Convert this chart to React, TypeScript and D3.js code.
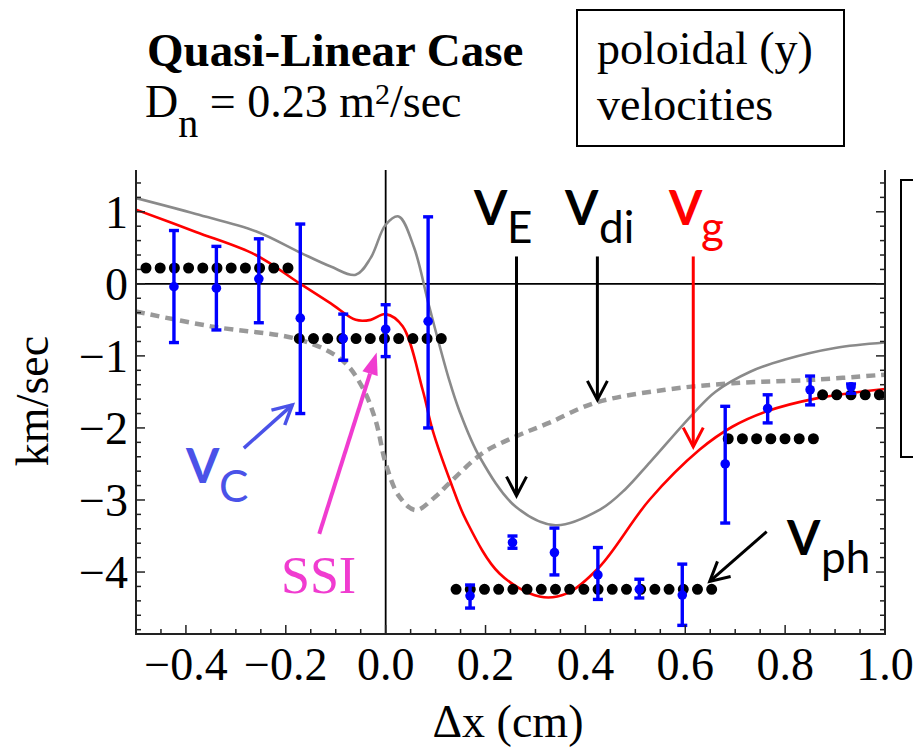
import React from 'react';
import * as d3 from 'd3';

// ---------- data ----------
const xTickValues = [-0.4, -0.2, 0.0, 0.2, 0.4, 0.6, 0.8, 1.0];
const xTickLabels = ['\u22120.4', '\u22120.2', '0.0', '0.2', '0.4', '0.6', '0.8', '1.0'];
const yTickValues = [1, 0, -1, -2, -3, -4];
const yTickLabels = ['1', '0', '\u22121', '\u22122', '\u22123', '\u22124'];

// V_E (gray solid)
const vE: [number, number][] = [
  [-0.5, 1.19], [-0.38, 0.97], [-0.26, 0.73], [-0.17, 0.43], [-0.11, 0.24], [-0.06, 0.125],
  [-0.03, 0.36], [0.0, 0.82], [0.026, 0.935], [0.057, 0.5], [0.087, -0.31], [0.127, -1.33],
  [0.147, -1.75], [0.188, -2.4], [0.26, -3.09], [0.34, -3.35], [0.43, -3.13], [0.48, -2.85],
  [0.53, -2.47], [0.616, -1.8], [0.66, -1.5], [0.73, -1.22], [0.8, -1.05], [0.9, -0.89], [1.0, -0.815],
];

// V_g (red)
const vG: [number, number][] = [
  [-0.5, 1.03], [-0.38, 0.72], [-0.26, 0.4], [-0.173, 0.01], [-0.11, -0.27], [-0.06, -0.5],
  [-0.03, -0.5], [0.0, -0.42], [0.034, -0.59], [0.074, -1.47], [0.094, -2.03], [0.13, -2.75],
  [0.161, -3.28], [0.228, -4.02], [0.308, -4.34], [0.362, -4.3], [0.428, -3.93], [0.528, -3.0],
  [0.629, -2.3], [0.695, -1.98], [0.763, -1.77], [0.863, -1.59], [1.0, -1.46],
];

// V_di (gray dashed)
const vDi: [number, number][] = [
  [-0.5, -0.385], [-0.35, -0.59], [-0.17, -0.78], [-0.087, -1.06], [-0.047, -1.43], [-0.02, -1.9],
  [0.0, -2.49], [0.027, -2.95], [0.06, -3.14], [0.1, -2.95], [0.127, -2.77], [0.194, -2.35],
  [0.26, -2.12], [0.327, -1.93], [0.42, -1.65], [0.56, -1.47], [0.695, -1.38], [0.86, -1.33],
  [1.0, -1.26],
];

// V_ph (black dotted plateaus): start x, end x, value
const vphStart = [-0.48, -0.173, 0.141, 0.686, 0.875];
const vphEnd = [-0.195, 0.112, 0.654, 0.857, 1.03];
const vphValue = [0.22, -0.76, -4.24, -2.15, -1.54];

// V_C (blue measured points with error bars)
const vcX = [-0.424, -0.339, -0.254, -0.171, -0.085, 0.0, 0.085, 0.169, 0.254, 0.338, 0.425, 0.508, 0.594, 0.68, 0.765, 0.85, 0.932];
const vcMean = [-0.04, -0.06, 0.07, -0.476, -0.76, -0.63, -0.52, -4.33, -3.59, -3.73, -4.04, -4.24, -4.32, -2.5, -1.73, -1.47, -1.43];
const vcLow = [-0.815, -0.64, -0.54, -1.8, -1.06, -1.01, -2.0, -4.5, -3.67, -4.04, -4.38, -4.36, -4.74, -3.32, -1.93, -1.68, -1.52];
const vcHigh = [0.74, 0.52, 0.625, 0.83, -0.42, -0.29, 0.93, -4.18, -3.5, -3.39, -3.66, -4.1, -3.89, -1.7, -1.54, -1.28, -1.39];

// ---------- layout ----------
const W = 913;
const H = 751;
const PL = 136;
const PR = 885;
const PT = 170;
const PB = 634;

const serif = '"Liberation Serif", "Times New Roman", serif';
const sans = 'Lato, "Open Sans", sans-serif';

const xS = d3.scaleLinear().domain([-0.5, 1.0]).range([PL, PR]);
const yS = d3.scaleLinear().domain([-4.86, 1.58]).range([PB, PT]);

const smooth = d3.line<[number, number]>().x((d) => xS(d[0])).y((d) => yS(d[1])).curve(d3.curveCatmullRom.alpha(0.5));

function Arrow({ x1, y1, x2, y2, color, width = 3, filled = false, head = 19, half = 10 }: any) {
  const ang = Math.atan2(y2 - y1, x2 - x1);
  const bx = x2 - head * Math.cos(ang);
  const by = y2 - head * Math.sin(ang);
  const px = -Math.sin(ang) * half;
  const py = Math.cos(ang) * half;
  if (filled) {
    return (
      <g>
        <line x1={x1} y1={y1} x2={bx} y2={by} stroke={color} strokeWidth={width} />
        <path d={`M${x2},${y2}L${bx + px},${by + py}L${bx - px},${by - py}Z`} fill={color} />
      </g>
    );
  }
  return (
    <g fill="none" stroke={color} strokeWidth={width}>
      <line x1={x1} y1={y1} x2={x2} y2={y2} />
      <path d={`M${bx + px},${by + py}L${x2},${y2}L${bx - px},${by - py}`} strokeLinejoin="miter" />
    </g>
  );
}

export default function App() {
  const xMinor = xS.ticks(30);
  const yMinor = yS.ticks(32);
  const isMajorX = (v: number) => Math.abs(v * 5 - Math.round(v * 5)) < 1e-6;
  const isMajorY = (v: number) => Math.abs(v - Math.round(v)) < 1e-6;

  return (
    <svg width={W} height={H} style={{ position: 'absolute', left: 0, top: 0, background: '#fff' }}>
      <defs>
        <clipPath id="plot">
          <rect x={PL} y={PT} width={PR - PL} height={PB - PT} />
        </clipPath>
      </defs>

      {/* title */}
      <text x={147} y={66} fontFamily={serif} fontWeight="bold" fontSize={47} fill="#000">Quasi-Linear Case</text>
      <text x={145} y={117} fontFamily={serif} fontSize={46} fill="#000">
        D<tspan dy={20} fontSize={40}>n</tspan>
        <tspan dy={-20}> = 0.23 m</tspan>
        <tspan dy={-13} fontSize={30}>2</tspan>
        <tspan dy={13}>/sec</tspan>
      </text>
      <rect x={577} y={10} width={267} height={136} fill="none" stroke="#000" strokeWidth={2} />
      <text x={597} y={64} fontFamily={serif} fontSize={46} fill="#000">poloidal (y)</text>
      <text x={597} y={120} fontFamily={serif} fontSize={46} fill="#000">velocities</text>

      {/* partial legend box at right */}
      <rect x={901} y={180} width={40} height={277} fill="none" stroke="#000" strokeWidth={2} />

      {/* zero lines */}
      <line x1={PL} x2={PR} y1={yS(0)} y2={yS(0)} stroke="#000" strokeWidth={1.8} />
      <line x1={xS(0)} x2={xS(0)} y1={PT} y2={PB} stroke="#000" strokeWidth={1.8} />

      <g clipPath="url(#plot)">
        <path d={smooth(vDi) || ''} fill="none" stroke="#999" strokeWidth={4.5} strokeDasharray="9 6" />
        <path d={smooth(vE) || ''} fill="none" stroke="#8a8a8a" strokeWidth={2.6} />
        <path d={smooth(vG) || ''} fill="none" stroke="#ff0000" strokeWidth={2.6} />
        {vphStart.map((s, i) => (
          <line key={i} x1={xS(s)} x2={xS(vphEnd[i])} y1={yS(vphValue[i])} y2={yS(vphValue[i])}
            stroke="#000" strokeWidth={11} strokeLinecap="round" strokeDasharray="0 14.2" />
        ))}
        {vcX.map((x, i) => (
          <g key={i} stroke="#0000ff" strokeWidth={3.4} fill="#0000ff">
            <line x1={xS(x)} x2={xS(x)} y1={yS(vcLow[i])} y2={yS(vcHigh[i])} />
            <line x1={xS(x) - 5} x2={xS(x) + 5} y1={yS(vcLow[i])} y2={yS(vcLow[i])} />
            <line x1={xS(x) - 5} x2={xS(x) + 5} y1={yS(vcHigh[i])} y2={yS(vcHigh[i])} />
            <circle cx={xS(x)} cy={yS(vcMean[i])} r={4.8} stroke="none" />
          </g>
        ))}
      </g>

      {/* frame */}
      <g stroke="#222" strokeWidth={2} fill="none">
        <line x1={PL} x2={PL} y1={PT} y2={PB + 1} />
        <line x1={PR} x2={PR} y1={PT} y2={PB + 1} />
        <line x1={PL - 1} x2={PR + 1} y1={PB} y2={PB} />
      </g>
      <g stroke="#222" strokeWidth={1.5}>
        {xMinor.map((v, i) => {
          const L = isMajorX(v) ? 9 : 5;
          return <line key={i} x1={xS(v)} x2={xS(v)} y1={PB} y2={PB - L} />;
        })}
        {yMinor.map((v, i) => {
          const L = isMajorY(v) ? 9 : 5;
          return (
            <g key={i}>
              <line x1={PL} x2={PL + L} y1={yS(v)} y2={yS(v)} />
              <line x1={PR} x2={PR - L} y1={yS(v)} y2={yS(v)} />
            </g>
          );
        })}
      </g>

      {/* tick labels */}
      {xTickValues.map((v, i) => (
        <text key={i} x={xS(v)} y={680} textAnchor="middle" fontFamily={serif} fontSize={46} fill="#000">{xTickLabels[i]}</text>
      ))}
      {yTickValues.map((v, i) => (
        <text key={i} x={128} y={yS(v) + 16} textAnchor="end" fontFamily={serif} fontSize={46} fill="#000">{yTickLabels[i]}</text>
      ))}
      <text x={508} y={737} textAnchor="middle" fontFamily={serif} fontSize={46} fill="#000">{'\u0394x (cm)'}</text>
      <text transform={`translate(48,401) rotate(-90)`} textAnchor="middle" fontFamily={serif} fontSize={46} fill="#000">km/sec</text>

      {/* annotations */}
      <Arrow x1={xS(0.262)} y1={yS(0.38)} x2={xS(0.262)} y2={yS(-2.94)} color="#000" width={3} />
      <Arrow x1={xS(0.424)} y1={yS(0.38)} x2={xS(0.424)} y2={yS(-1.61)} color="#000" width={3} />
      <Arrow x1={xS(0.616)} y1={yS(0.38)} x2={xS(0.616)} y2={yS(-2.26)} color="#ff0000" width={3} />
      <Arrow x1={xS(0.763)} y1={yS(-3.44)} x2={xS(0.649)} y2={yS(-4.13)} color="#000" width={3} />
      <Arrow x1={xS(-0.284)} y1={yS(-2.28)} x2={xS(-0.187)} y2={yS(-1.68)} color="#4a52e8" width={3.5} />
      <Arrow x1={xS(-0.133)} y1={yS(-3.47)} x2={xS(-0.018)} y2={yS(-0.954)} color="#f03cd0" width={4} filled head={22} half={8} />

      <g fontFamily={sans}>
        <text x={474} y={225} fontSize={48} fontWeight="bold" fill="#000">V</text>
        <text x={507} y={243} fontSize={44} fill="#000">E</text>
        <text x={565} y={225} fontSize={48} fontWeight="bold" fill="#000">V</text>
        <text x={599} y={243} fontSize={44} fill="#000">di</text>
        <text x={669} y={225} fontSize={48} fontWeight="bold" fill="#ff0000">V</text>
        <text x={701} y={243} fontSize={44} fill="#ff0000">g</text>
        <text x={787} y={555} fontSize={48} fontWeight="bold" fill="#000">V</text>
        <text x={821} y={573} fontSize={44} fill="#000">ph</text>
        <text x={186} y={483} fontSize={48} fontWeight="bold" fill="#4a52e8">V</text>
        <text x={219} y={502} fontSize={44} fill="#4a52e8">C</text>
      </g>
      <text x={281} y={593} fontFamily={serif} fontSize={52} fill="#f03cd0">SSI</text>
    </svg>
  );
}
